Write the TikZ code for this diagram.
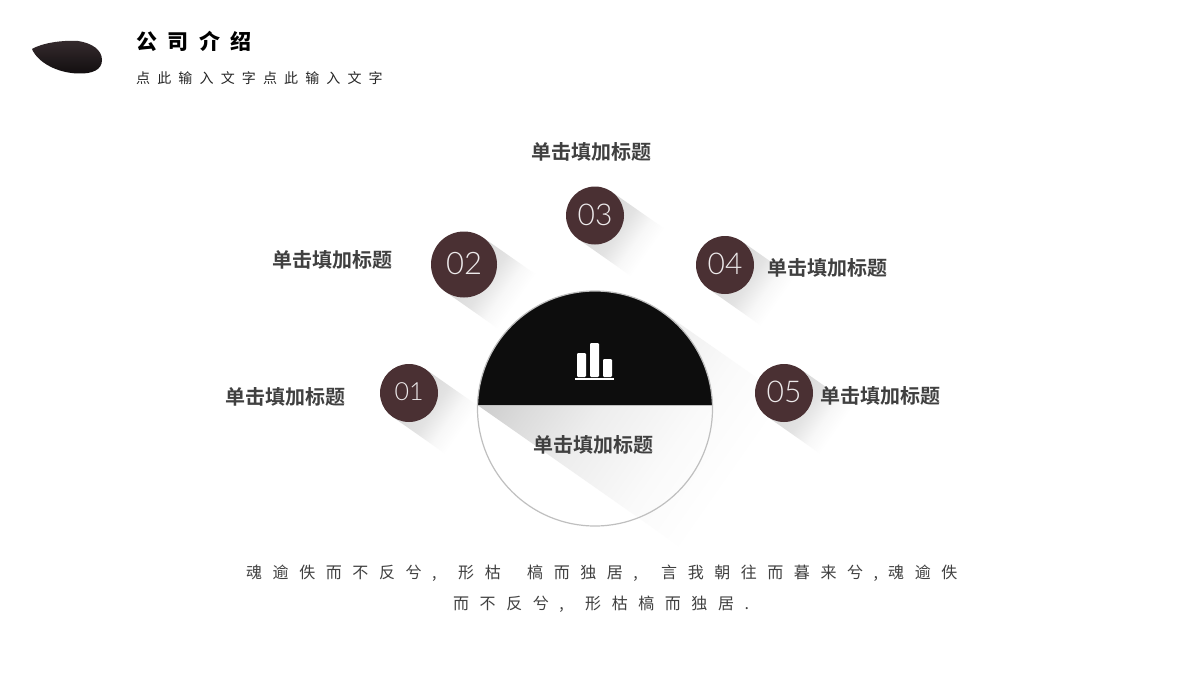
\documentclass[tikz,border=0pt]{standalone}
\usepackage{fontspec}
\setmainfont{Liberation Sans}
\newfontfamily\numfont[UprightFont=* Light]{Lato}
\newfontfamily\cjkb{Noto Sans CJK SC Bold}
\newfontfamily\cjkbody[LetterSpace=66]{Noto Sans CJK SC}
\newfontfamily\cjktitle[LetterSpace=50]{Noto Sans CJK SC Black}
\newfontfamily\cjksub[LetterSpace=51]{Noto Sans CJK SC}
\definecolor{badge}{HTML}{4A3033}
\definecolor{ink}{HTML}{0D0D0D}
\definecolor{labelc}{HTML}{404040}
\definecolor{ringc}{HTML}{BFBFBF}
\definecolor{bowltop}{HTML}{352B2E}
\definecolor{bowlbot}{HTML}{120E0F}
\pgfdeclarehorizontalshading{smallfade}{80bp}{color(0bp)=(black!16); color(29bp)=(black!11); color(48bp)=(black!3); color(64bp)=(white); color(85bp)=(white)}
\pgfdeclarehorizontalshading{bigfade}{240bp}{color(0bp)=(black!20); color(42bp)=(black!14); color(102bp)=(black!7); color(184bp)=(black!2); color(250bp)=(white); color(370bp)=(white)}
\tikzset{
  badgenode/.style={circle,fill=badge,inner sep=0pt,text=white!90!badge,align=center},
  labelnode/.style={font=\cjkb\fontsize{20}{24}\selectfont,text=labelc,inner sep=0pt},
  bodynode/.style={font=\cjkbody\fontsize{16}{20}\selectfont,text=labelc,inner sep=0pt,anchor=west},
}
% shadow: centre x, centre y, radius, length
\newcommand{\longshadow}[4]{%
  \begin{scope}[shift={(#1,#2)},rotate=-35,blend mode=multiply]
    \clip (0,-#3) rectangle (#4,#3);
    \node[transform shape,inner sep=0pt,outer sep=0pt,anchor=west] at (0,0) {\pgfuseshading{smallfade}};
  \end{scope}}
\newcommand{\dg}[1]{\raisebox{2pt}{#1}}
\newcommand{\seg}[2]{\makebox[#1pt][l]{#2}}
\begin{document}
\begin{tikzpicture}[x=1pt,y=-1pt]
\useasboundingbox (0,0) rectangle (1200,685);
\fill[white] (0,0) rectangle (1200,685);

% bowl
\shade[top color=bowltop,bottom color=bowlbot,draw=none]
  (32,49) .. controls (42,43) and (62,40) .. (78,41) .. controls (92,43) and (102,50) .. (102,60)
  .. controls (102,70) and (92,74) .. (78,73.5) .. controls (58,73) and (38,63) .. (32,49) -- cycle;
\node[anchor=west,inner sep=0pt,font=\cjktitle\fontsize{21}{24}\selectfont] (title) at (136,41) {公司介绍};
\node[anchor=west,inner sep=0pt,font=\cjksub\fontsize{14}{18}\selectfont,text=black!85] (subtitle) at (136,78) {点此输入文字点此输入文字};

% centre circle
\coordinate (cc) at (595,408.5);
\fill[white] (cc) circle (117.5);
\begin{scope}[shift={(cc)},rotate=-35]
  \clip (-97.5,64.6) -- (0,-118) -- (270,-118) -- (270,64.6) -- cycle;
  \node[transform shape,inner sep=0pt,outer sep=0pt,anchor=west] at (-97.5,-26.7) {\pgfuseshading{bigfade}};
\end{scope}

% long shadows
\longshadow{409}{393}{29}{75}
\longshadow{464}{264.5}{33}{82}
\longshadow{595}{215.5}{29}{75}
\longshadow{725}{265}{29}{75}
\longshadow{784}{393}{29}{75}

\begin{scope}
  \clip (470,285) rectangle (720,405);
  \fill[ink] (cc) circle (117.5);
\end{scope}
\draw[ringc,line width=1.2pt] (cc) circle (117.5);
\draw[ringc,line width=.8pt] (478,405.3) -- (712,405.3);

% icon
\fill[white,rounded corners=1.2pt] (577,377) -- (577,353) -- (586,353) -- (586,377) -- cycle;
\fill[white,rounded corners=1.2pt] (590,377) -- (590,343) -- (599,343) -- (599,377) -- cycle;
\fill[white,rounded corners=1.2pt] (603,377) -- (603,359) -- (612,359) -- (612,377) -- cycle;
\fill[white] (575,378) rectangle (614,380);

% badges
\node[badgenode,minimum size=58pt,font=\numfont\fontsize{25}{28}\selectfont] (n1) at (409,393) {\dg{01}};
\node[badgenode,minimum size=66pt,font=\numfont\fontsize{31}{36}\selectfont] (n2) at (464,264.5) {\dg{02}};
\node[badgenode,minimum size=58pt,font=\numfont\fontsize{30}{34}\selectfont] (n3) at (595,215.5) {\dg{03}};
\node[badgenode,minimum size=58pt,font=\numfont\fontsize{30}{34}\selectfont] (n4) at (725,265) {\dg{04}};
\node[badgenode,minimum size=58pt,font=\numfont\fontsize{30}{34}\selectfont] (n5) at (784,393) {\dg{05}};

% labels
\node[labelnode] (l1) at (285,397) {单击填加标题};
\node[labelnode] (l2) at (332.5,260) {单击填加标题};
\node[labelnode] (l3) at (591,152) {单击填加标题};
\node[labelnode] (l4) at (827.5,268) {单击填加标题};
\node[labelnode] (l5) at (880,396) {单击填加标题};
\node[labelnode] (l6) at (593.5,445) {单击填加标题};

% body
\node[bodynode] (b1) at (246,573) {\seg{212}{魂逾佚而不反兮,}\seg{69}{形枯}\seg{134}{槁而独居,}\seg{227}{言我朝往而暮来兮,}\seg{70}{魂逾佚}};
\node[bodynode] (b2) at (453,604) {\seg{132}{而不反兮,}\seg{172}{形枯槁而独居.}};
\end{tikzpicture}
\end{document}
